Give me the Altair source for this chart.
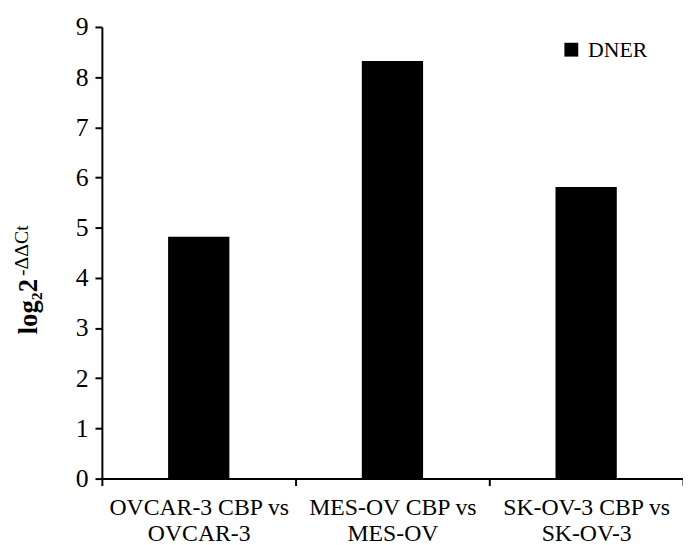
import altair as alt
import pandas as pd

categories = ["OVCAR-3 CBP vs\nOVCAR-3", "MES-OV CBP vs\nMES-OV", "SK-OV-3 CBP vs\nSK-OV-3"]
values = [4.82, 8.32, 5.81]
series = ["DNER", "DNER", "DNER"]
y_ticks = [0, 1, 2, 3, 4, 5, 6, 7, 8, 9]
title_main = ["log₂2"]
title_sup = ["-ΔΔCt"]

FONT = "Times New Roman, Liberation Serif, serif"

df = pd.DataFrame({"cat": categories, "val": values, "series": series})

bars = alt.Chart(df).mark_bar(size=62, color="black").encode(
    x=alt.X(
        "cat:N", sort=categories, title=None,
        scale=alt.Scale(paddingInner=0, paddingOuter=0),
        axis=alt.Axis(
            labelAngle=0, labelExpr="split(datum.label, '\\n')",
            labelFont=FONT, labelFontSize=24, labelColor="black",
            labelLineHeight=27, labelPadding=10, labelLimit=0, tickBand="extent",
            tickSize=7, tickColor="black", tickWidth=2,
            domainColor="black", domainWidth=2, grid=False,
        ),
    ),
    y=alt.Y(
        "val:Q", title=None,
        scale=alt.Scale(domain=[0, 9], nice=False),
        axis=alt.Axis(
            values=y_ticks, labelFont=FONT, labelFontSize=26, labelColor="black",
            labelPadding=7, tickSize=7, tickColor="black", tickWidth=2,
            domainColor="black", domainWidth=2, grid=False,
        ),
    ),
    color=alt.Color(
        "series:N", scale=alt.Scale(range=["black"]),
        legend=alt.Legend(
            title=None, orient="none", legendX=464, legendY=12,
            symbolType="square", symbolSize=196, symbolStrokeWidth=0,
            symbolFillColor="black", labelFont=FONT, labelFontSize=22,
            labelColor="black", labelOffset=6, padding=0,
        ),
    ),
)

t_main = alt.Chart(pd.DataFrame({"t": title_main})).mark_text(
    font=FONT, fontSize=27, fontWeight="bold", angle=270, align="left",
    baseline="alphabetic", color="black",
).encode(x=alt.value(-66), y=alt.value(311), text="t:N")

t_sup = alt.Chart(pd.DataFrame({"t": title_sup})).mark_text(
    font=FONT, fontSize=20, angle=270, align="left",
    baseline="alphabetic", color="black",
).encode(x=alt.value(-75), y=alt.value(252), text="t:N")

chart = alt.layer(bars, t_main, t_sup).properties(
    width=588, height=457,
    autosize=alt.AutoSizeParams(type="none"),
    padding={"left": 95, "top": 16, "right": 0, "bottom": 64},
).configure_view(stroke=None)

chart.save("out.html", embed_options={"renderer": "svg", "actions": False})
